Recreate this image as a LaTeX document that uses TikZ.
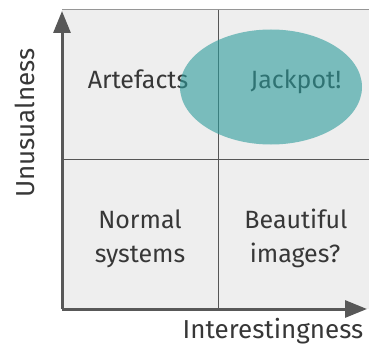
\documentclass[tikz,border=0pt]{standalone}
\usepackage{fontspec}
\setmainfont{Fira Sans}
\usetikzlibrary{arrows.meta}
\definecolor{bggray}{RGB}{238,238,238}
\definecolor{axisgray}{RGB}{88,88,88}
\definecolor{divgray}{RGB}{85,85,85}
\definecolor{topgray}{RGB}{150,150,150}
\definecolor{tealfill}{RGB}{43,155,155}
\definecolor{txt}{RGB}{55,55,55}
\tikzset{
  lbl/.style={anchor=base, inner sep=0pt, text=txt, font=\fontsize{25}{29}\selectfont},
  axislbl/.style={anchor=base, inner sep=0pt, text=txt, font=\fontsize{26}{30}\selectfont},
  divider/.style={draw=divgray, line width=0.9pt},
  axisline/.style={draw=axisgray, line width=3pt, -{Triangle[length=22pt,width=17pt]}},
}
\begin{document}
\begin{tikzpicture}[x=1pt,y=1pt]
\useasboundingbox (0,0) rectangle (369,346);
% background of quadrant
\fill[bggray] (62,37) rectangle (369,336);
\draw[topgray, line width=1pt] (62,336) -- (369,336);
% dividers
\coordinate (vtop) at (218,336);
\coordinate (vbot) at (218,37);
\coordinate (hleft) at (62,187);
\coordinate (hright) at (369,187);
\draw[divider] (vtop) -- (vbot);
\draw[divider] (hleft) -- (hright);
% labels
\node[lbl] (art) at (138,258) {Artefacts};
\node[lbl] (jack) at (296,258) {Jackpot!};
\node[lbl] (norm) at (140,118) {Normal};
\node[lbl] (sys) at (140,84) {systems};
\node[lbl] (beau) at (296,118) {Beautiful};
\node[lbl] (img) at (295,84) {images?};
% ellipse
\fill[tealfill, fill opacity=0.6] (271,259) ellipse [x radius=91, y radius=57.5];
% axes
\coordinate (origin) at (62,37);
\coordinate (ytip) at (62,335);
\coordinate (xtip) at (367,37);
\draw[axisline] (origin) -- (ytip);
\draw[axisline] (origin) -- (xtip);
% axis labels
\node[axislbl] (xl) at (273,7.5) {Interestingness};
\node[axislbl, rotate=90] (yl) at (35,223) {Unusualness};
\end{tikzpicture}
\end{document}
